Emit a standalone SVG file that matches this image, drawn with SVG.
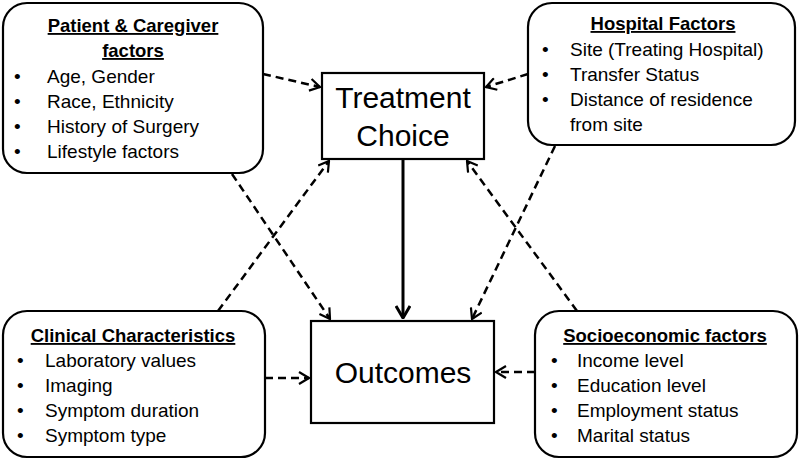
<svg xmlns="http://www.w3.org/2000/svg" width="800" height="462" viewBox="0 0 800 462">
<style>
.box{fill:#fff;stroke:#000;stroke-width:2.2}
.t{font-family:"Liberation Sans",Arial,sans-serif;font-size:19px;fill:#000}
.h{font-family:"Liberation Sans",Arial,sans-serif;font-size:18.5px;font-weight:bold;fill:#000;text-decoration:underline;text-anchor:middle}
.big{font-family:"Liberation Sans",Arial,sans-serif;font-size:30px;fill:#000;text-anchor:middle}
.d{fill:none;stroke:#000;stroke-width:2.5;stroke-dasharray:8,5;marker-end:url(#a)}
.s{fill:none;stroke:#000;stroke-width:3;marker-end:url(#b)}
</style>
<defs>
<marker id="a" markerUnits="userSpaceOnUse" viewBox="0 0 12 14" refX="11" refY="7" markerWidth="12" markerHeight="14" orient="auto">
<path d="M1,1 L11,7 L1,13" fill="none" stroke="#000" stroke-width="2.2"/>
</marker>
<marker id="b" markerUnits="userSpaceOnUse" viewBox="0 0 14 16" refX="13" refY="8" markerWidth="14" markerHeight="16" orient="auto">
<path d="M1,1 L13,8 L1,15" fill="none" stroke="#000" stroke-width="3"/>
</marker>
</defs>
<rect width="800" height="462" fill="#fff"/>
<g id="connectors">
<line class="d" x1="263" y1="74" x2="320" y2="87"/>
<line class="d" x1="528" y1="74" x2="486" y2="87"/>
<line class="d" x1="218" y1="311" x2="329" y2="161"/>
<line class="d" x1="232" y1="174" x2="330" y2="319"/>
<line class="d" x1="555" y1="146" x2="472" y2="319"/>
<line class="d" x1="577" y1="311" x2="467" y2="161"/>
<line class="s" x1="403" y1="160" x2="403" y2="318"/>
<line class="d" x1="265" y1="378" x2="309" y2="378"/>
<line class="d" x1="535" y1="372" x2="496" y2="372"/>
</g>
<g id="patient">
<rect class="box" x="3" y="3" width="260" height="170" rx="24"/>
<text class="h" x="133" y="32">Patient &amp; Caregiver</text>
<text class="h" x="133" y="57">factors</text>
<text class="t" x="14" y="83">•</text><text class="t" x="47" y="83">Age, Gender</text>
<text class="t" x="14" y="108">•</text><text class="t" x="47" y="108">Race, Ethnicity</text>
<text class="t" x="14" y="133">•</text><text class="t" x="47" y="133">History of Surgery</text>
<text class="t" x="14" y="158">•</text><text class="t" x="47" y="158">Lifestyle factors</text>
</g>
<g id="hospital">
<rect class="box" x="528" y="3" width="267" height="142" rx="24"/>
<text class="h" x="663" y="30">Hospital Factors</text>
<text class="t" x="542" y="56">•</text><text class="t" x="570" y="56">Site (Treating Hospital)</text>
<text class="t" x="542" y="81">•</text><text class="t" x="570" y="81">Transfer Status</text>
<text class="t" x="542" y="106">•</text><text class="t" x="570" y="106">Distance of residence</text>
<text class="t" x="570" y="131">from site</text>
</g>
<g id="treatment">
<rect class="box" x="322" y="73" width="162" height="86"/>
<text class="big" x="403" y="108">Treatment</text>
<text class="big" x="403" y="146">Choice</text>
</g>
<g id="outcomes">
<rect class="box" x="311" y="321" width="183" height="102"/>
<text class="big" x="403" y="383">Outcomes</text>
</g>
<g id="clinical">
<rect class="box" x="3" y="311" width="262" height="146" rx="24"/>
<text class="h" x="133" y="342">Clinical Characteristics</text>
<text class="t" x="17" y="367">•</text><text class="t" x="45" y="367">Laboratory values</text>
<text class="t" x="17" y="392">•</text><text class="t" x="45" y="392">Imaging</text>
<text class="t" x="17" y="417">•</text><text class="t" x="45" y="417">Symptom duration</text>
<text class="t" x="17" y="442">•</text><text class="t" x="45" y="442">Symptom type</text>
</g>
<g id="socioeconomic">
<rect class="box" x="535" y="311" width="262" height="146" rx="24"/>
<text class="h" x="665" y="342">Socioeconomic factors</text>
<text class="t" x="551" y="367">•</text><text class="t" x="577" y="367">Income level</text>
<text class="t" x="551" y="392">•</text><text class="t" x="577" y="392">Education level</text>
<text class="t" x="551" y="417">•</text><text class="t" x="577" y="417">Employment status</text>
<text class="t" x="551" y="442">•</text><text class="t" x="577" y="442">Marital status</text>
</g>
</svg>
